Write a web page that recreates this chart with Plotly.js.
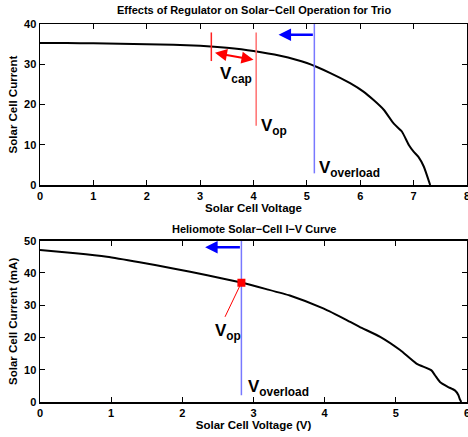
<!DOCTYPE html>
<html><head><meta charset="utf-8">
<script src="https://cdn.plot.ly/plotly-3.0.1.min.js"></script>
<style>body{margin:0;padding:0;background:#fff}#g{width:468px;height:437px}</style>
</head><body><div id="g"></div>
<script>
// Top chart: Trio solar cell I-V
const trioV = [0,0.5,1,1.5,2,2.5,3,3.5,4,4.5,5,5.44,5.81,6.06,6.25,6.44,6.625,6.78,6.91,7.0,7.09,7.19,7.31];
const trioI = [35.3,35.25,35.2,35.1,35.0,34.85,34.6,34.1,33.3,32.1,30.3,27.8,25.3,23.2,21.1,18.7,15.3,13.3,9.95,8.3,7.0,4.6,0];
// Bottom chart: Heliomote solar cell I-V
const heliV = [0,0.5,0.94,1.4,1.87,2.35,2.81,3.18,3.51,3.98,4.31,4.49,4.78,5.06,5.29,5.5,5.55,5.62,5.73,5.83,5.88,5.9,5.92];
const heliI = [47.1,46.1,45.0,43.3,41.4,39.3,37.1,35.0,33.0,29.0,25.4,23.3,20.2,16.1,11.9,9.8,8.3,6.2,4.7,3.6,2.1,0.8,0];
// Marker lines (x position, y from, y to)
const vCapLine = {x:3.21, y:[30.8,37.9]};
const vOpLine = {x:4.05, y:[14.7,37.9]};
const vOverTop = {x:5.14, y:[2.9,40]};
const vOverBot = {x:2.83, y:[2.1,50]};
const vOpPoint = {x:[2.83], y:[37.0]};
const titles = ["Effects of Regulator on Solar\u2212Cell Operation for Trio","Heliomote Solar\u2212Cell I\u2212V Curve"];
const xTitles = ["Solar Cell Voltage","Solar Cell Voltage (V)"];
const yTitles = ["Solar Cell Current","Solar Cell Current (mA)"];

const F = "Liberation Sans, Arial, Helvetica, sans-serif";
const bf = (s)=>({family:F,size:s,color:'#000',weight:'bold'});

const traces = [
 {x:trioV,y:trioI,xaxis:'x',yaxis:'y',mode:'lines',line:{color:'#000',width:2,shape:'spline',smoothing:0.5}},
 {x:[vCapLine.x,vCapLine.x],y:vCapLine.y,xaxis:'x',yaxis:'y',mode:'lines',line:{color:'#ff2020',width:1.5}},
 {x:[vOpLine.x,vOpLine.x],y:vOpLine.y,xaxis:'x',yaxis:'y',mode:'lines',line:{color:'#ff7070',width:1.5}},
 {x:[vOverTop.x,vOverTop.x],y:vOverTop.y,xaxis:'x',yaxis:'y',mode:'lines',line:{color:'#7878ff',width:1.5}},
 {x:heliV,y:heliI,xaxis:'x2',yaxis:'y2',mode:'lines',line:{color:'#000',width:2,shape:'spline',smoothing:0.5}},
 {x:[vOverBot.x,vOverBot.x],y:vOverBot.y,xaxis:'x2',yaxis:'y2',mode:'lines',line:{color:'#7878ff',width:1.5}},
 {x:[vOpPoint.x[0],2.6],y:[vOpPoint.y[0],26.4],xaxis:'x2',yaxis:'y2',mode:'lines',line:{color:'#ff0000',width:1}},
 {x:vOpPoint.x,y:vOpPoint.y,xaxis:'x2',yaxis:'y2',mode:'markers',marker:{symbol:'square',color:'#ff0000',size:8}}
];

const ax = (extra)=>Object.assign({showgrid:false,zeroline:false,showline:true,linecolor:'#000',linewidth:1.5,
  mirror:'ticks',ticks:'inside',ticklen:5,tickwidth:1,tickcolor:'#000',tickfont:bf(11),ticklabeloverflow:'allow'},extra);

const layout = {
 width:468,height:437,showlegend:false,paper_bgcolor:'#fff',plot_bgcolor:'#fff',
 margin:{l:40,r:1,t:24,b:35},
 xaxis:ax({range:[0,8],dtick:1,anchor:'y',title:{text:xTitles[0],font:bf(11.5),standoff:2}}),
 yaxis:ax({range:[0,40],dtick:10,domain:[0.574,1],anchor:'x',title:{text:yTitles[0],font:bf(11.5),standoff:4}}),
 xaxis2:ax({range:[0,6],dtick:1,anchor:'y2',title:{text:xTitles[1],font:bf(11.5),standoff:2}}),
 yaxis2:ax({range:[0,50],dtick:10,domain:[0,0.4267],anchor:'x2',title:{text:yTitles[1],font:bf(11.5),standoff:4}}),
 annotations:[
  {text:titles[0],xref:'paper',yref:'paper',x:0.5,y:1,yshift:6,yanchor:'bottom',showarrow:false,font:bf(11)},
  {text:titles[1],xref:'paper',yref:'paper',x:0.5,y:0.4267,yshift:4,yanchor:'bottom',showarrow:false,font:bf(11)},
  // arrows
  {xref:'x',yref:'y',axref:'x',ayref:'y',x:4.47,y:37.3,ax:5.14,ay:37.3,showarrow:true,arrowhead:2,arrowsize:1,arrowwidth:2.5,arrowcolor:'#0000ff',text:''},
  {xref:'x',yref:'y',axref:'x',ayref:'y',x:4.0,y:31.1,ax:3.25,ay:32.9,showarrow:true,arrowhead:2,startarrowhead:2,arrowside:'end+start',arrowsize:1.2,startarrowsize:1.2,arrowwidth:2,arrowcolor:'#ff0000',text:'',startstandoff:0,standoff:0},
  {xref:'x2',yref:'y2',axref:'x2',ayref:'y2',x:2.32,y:48.0,ax:2.83,ay:48.0,showarrow:true,arrowhead:2,arrowsize:1,arrowwidth:2.5,arrowcolor:'#0000ff',text:''},
  // labels
  {xref:'x',yref:'y',x:3.34,y:30.6,xanchor:'left',yanchor:'top',showarrow:false,text:'V<sub>cap</sub>',font:bf(17)},
  {xref:'x',yref:'y',x:4.11,y:17.6,xanchor:'left',yanchor:'top',showarrow:false,text:'V<sub>op</sub>',font:bf(17)},
  {xref:'x',yref:'y',x:5.19,y:7.2,xanchor:'left',yanchor:'top',showarrow:false,text:'V<sub>overload</sub>',font:bf(17)},
  {xref:'x2',yref:'y2',x:2.43,y:25.6,xanchor:'left',yanchor:'top',showarrow:false,text:'V<sub>op</sub>',font:bf(17)},
  {xref:'x2',yref:'y2',x:2.90,y:8.5,xanchor:'left',yanchor:'top',showarrow:false,text:'V<sub>overload</sub>',font:bf(17)}
 ]
};
Plotly.newPlot('g',traces,layout,{displayModeBar:false,staticPlot:true});
</script></body></html>
